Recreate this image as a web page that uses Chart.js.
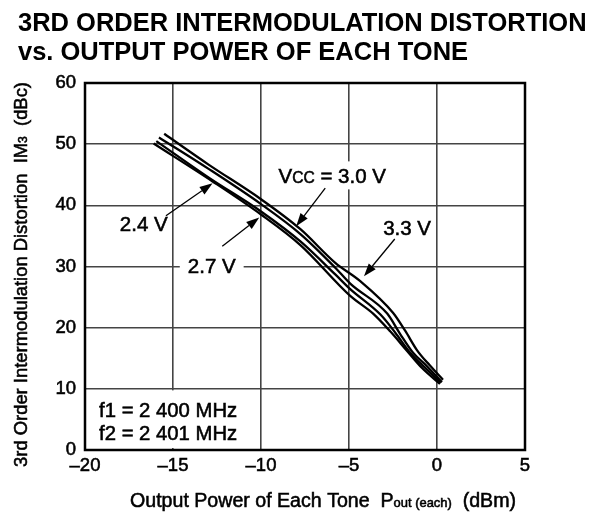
<!DOCTYPE html>
<html>
<head>
<meta charset="utf-8">
<script src="https://cdn.jsdelivr.net/npm/chart.js@4"></script>
<style>
  html, body { margin: 0; padding: 0; background: #fff; }
  #wrap { width: 602px; height: 524px; position: relative; }
</style>
</head>
<body>
<div id="wrap"><canvas id="im3-graph" width="602" height="524"></canvas></div>
<script>
// IM3 vs output power, one curve per supply voltage
const vcc33X = [-15.5, -13.0, -10.0, -7.76, -5.78, -4.36, -2.49, -1.81, -1.13, -0.40, 0.34];
const vcc33Y = [51.7, 46.7, 41.0, 36.1, 30.6, 27.6, 22.4, 19.5, 16.3, 13.8, 11.5];
const vcc30X = [-15.8, -13.0, -10.0, -7.76, -5.78, -4.93, -2.83, -2.10, -1.36, -0.57, 0.28];
const vcc30Y = [51.1, 46.0, 40.2, 35.3, 29.8, 27.2, 22.3, 19.0, 15.9, 13.7, 11.1];
const vcc27X = [-15.95, -12.9, -10.0, -7.76, -5.78, -4.93, -3.2, -2.35, -1.55, -0.70, 0.22];
const vcc27Y = [50.5, 44.4, 39.0, 34.1, 28.7, 26.3, 22.1, 19.1, 16.0, 13.5, 11.0];
const vcc24X = [-16.1, -12.75, -10.0, -7.76, -4.93, -3.63, -2.66, -1.70, -0.85, 0.17];
const vcc24Y = [50.1, 43.9, 38.5, 33.5, 25.2, 22.3, 19.4, 16.2, 13.4, 10.8];

const xTicks = [-20, -15, -10, -5, 0, 5];
const yTicks = [0, 10, 20, 30, 40, 50, 60];

// curve labels: text, centre and arrow (from -> tip), all in data units
const curveLabels = [
    { text: [["2.4 V", 1]], x: -16.66, y: 37.1, from: [-15.4, 38.3], tip: [-12.75, 43.6] },
    { text: [["2.7 V", 1]], x: -12.8, y: 30.1, from: [-12.2, 33.3], tip: [-10.1, 38.0], bg: true },
    { text: [["V", 1], ["CC", 0.76], [" = 3.0 V", 1]], x: -5.95, y: 44.9, from: [-6.35, 42.8], tip: [-8.0, 36.6], bg: true },
    { text: [["3.3 V", 1]], x: -1.7, y: 36.3, from: [-2.4, 34.5], tip: [-4.15, 28.4] },
];
const freqLines = ["f1 = 2 400 MHz", "f2 = 2 401 MHz"];

const FONT = "'Liberation Sans', Arial, sans-serif";
const HEAVY = 0.55; // extra stroke so the regular face reads a little heavier

function toPoints(xs, ys) {
    return xs.map((x, i) => ({ x: x, y: ys[i] }));
}

function curve(label, xs, ys) {
    return {
        label: label,
        data: toPoints(xs, ys),
        borderColor: "#000",
        borderWidth: 2.3,
        pointRadius: 0,
        fill: false,
        cubicInterpolationMode: "monotone",
    };
}

// draw a run of text pieces, smaller pieces sit on the same baseline
function runWidth(ctx, parts, size, weight) {
    let w = 0;
    parts.forEach(([t, s]) => {
        ctx.font = `${weight} ${size * s}px ${FONT}`;
        w += ctx.measureText(t).width;
    });
    return w;
}

function drawRun(ctx, parts, x, y, size, weight, align, stroke) {
    let w = runWidth(ctx, parts, size, weight);
    let cx = align === "center" ? x - w / 2 : x;
    ctx.textAlign = "left";
    ctx.textBaseline = "alphabetic";
    ctx.fillStyle = "#000";
    ctx.strokeStyle = "#000";
    ctx.lineWidth = stroke || 0;
    parts.forEach(([t, s]) => {
        ctx.font = `${weight} ${size * s}px ${FONT}`;
        ctx.fillText(t, cx, y);
        if (stroke) ctx.strokeText(t, cx, y);
        cx += ctx.measureText(t).width;
    });
    return w;
}

function arrow(ctx, x0, y0, x1, y1) {
    const a = Math.atan2(y1 - y0, x1 - x0);
    const len = 13, half = 4.5;
    const bx = x1 - len * Math.cos(a), by = y1 - len * Math.sin(a);
    ctx.strokeStyle = "#000";
    ctx.lineWidth = 1.3;
    ctx.beginPath();
    ctx.moveTo(x0, y0);
    ctx.lineTo(bx, by);
    ctx.stroke();
    ctx.fillStyle = "#000";
    ctx.beginPath();
    ctx.moveTo(x1, y1);
    ctx.lineTo(bx + half * Math.sin(a), by - half * Math.cos(a));
    ctx.lineTo(bx - half * Math.sin(a), by + half * Math.cos(a));
    ctx.closePath();
    ctx.fill();
}

const decorations = {
    id: "decorations",
    // white patches behind labels, then the frame
    beforeDatasetsDraw(chart) {
        const { ctx, chartArea: ca, scales: { x, y } } = chart;
        ctx.save();
        ctx.fillStyle = "#fff";
        ctx.fillRect(ca.left + 2, y.getPixelForValue(9.75), x.getPixelForValue(-10.35) - ca.left - 2, ca.bottom - y.getPixelForValue(9.75) - 2);
        curveLabels.filter(l => l.bg).forEach(l => {
            const w = runWidth(ctx, l.text, 20.5, "normal");
            const cx = x.getPixelForValue(l.x), cy = y.getPixelForValue(l.y);
            ctx.fillStyle = "#fff";
            ctx.fillRect(cx - w / 2 - 8, cy - 14, w + 16, 28);
        });
        ctx.strokeStyle = "#000";
        ctx.lineWidth = 2.5;
        ctx.strokeRect(ca.left, ca.top, ca.right - ca.left, ca.bottom - ca.top);
        ctx.restore();
    },
    afterDatasetsDraw(chart) {
        const { ctx, scales: { x, y } } = chart;
        ctx.save();
        curveLabels.forEach(l => {
            drawRun(ctx, l.text, x.getPixelForValue(l.x), y.getPixelForValue(l.y) + 7.5, 20.5, "normal", "center", HEAVY);
            arrow(ctx, x.getPixelForValue(l.from[0]), y.getPixelForValue(l.from[1]),
                x.getPixelForValue(l.tip[0]), y.getPixelForValue(l.tip[1]));
        });
        freqLines.forEach((t, i) => {
            drawRun(ctx, [[t, 1]], x.getPixelForValue(-19.2), y.getPixelForValue(6.5 - i * 3.7) + 7, 20.3, "normal", "left", HEAVY);
        });
        ctx.restore();
    },
    afterDraw(chart) {
        const { ctx, chartArea: ca } = chart;
        ctx.save();
        // heading
        drawRun(ctx, [["3RD ORDER INTERMODULATION DISTORTION", 1]], 18, 31, 25.5, "bold", "left");
        drawRun(ctx, [["vs. OUTPUT POWER OF EACH TONE", 1]], 18, 60, 25.5, "bold", "left");
        // x axis title
        drawRun(ctx, [["Output Power of Each Tone  P", 1], ["out (each)", 0.66], ["  (dBm)", 1]],
            323, 507, 19.6, "normal", "center", HEAVY);
        // y axis title, rotated
        ctx.translate(27, (ca.top + ca.bottom) / 2 + 8);
        ctx.rotate(-Math.PI / 2);
        drawRun(ctx, [["3rd Order Intermodulation Distortion  IM", 1], ["3", 0.66], ["  (dBc)", 1]],
            0, 0, 18.4, "normal", "center", HEAVY);
        ctx.restore();
    },
};

const tickFont = { family: FONT, size: 18.5 };

const chart = new Chart(document.getElementById("im3-graph").getContext("2d"), {
    type: "line",
    data: {
        datasets: [
            curve("3.3 V", vcc33X, vcc33Y),
            curve("3.0 V", vcc30X, vcc30Y),
            curve("2.7 V", vcc27X, vcc27Y),
            curve("2.4 V", vcc24X, vcc24Y),
        ],
    },
    options: {
        responsive: false,
        animation: false,
        events: [],
        layout: { padding: { top: 83, right: 77, left: 0, bottom: 0 } },
        plugins: { legend: { display: false }, tooltip: { enabled: false } },
        scales: {
            x: {
                type: "linear",
                min: xTicks[0],
                max: xTicks[xTicks.length - 1],
                afterBuildTicks: s => { s.ticks = xTicks.map(v => ({ value: v })); },
                afterFit: s => { s.height = 74; },
                grid: { color: "#444", lineWidth: 1.6, drawTicks: false },
                border: { display: false },
                ticks: {
                    color: "#000",
                    font: tickFont,
                    textStrokeColor: "#000",
                    textStrokeWidth: HEAVY,
                    padding: 5,
                    maxRotation: 0,
                    callback: v => (v < 0 ? "\u2013" + Math.abs(v) : String(v)),
                },
            },
            y: {
                type: "linear",
                min: yTicks[0],
                max: yTicks[yTicks.length - 1],
                afterBuildTicks: s => { s.ticks = yTicks.map(v => ({ value: v })); },
                afterFit: s => { s.width = 85; },
                grid: { color: "#444", lineWidth: 1.6, drawTicks: false },
                border: { display: false },
                ticks: { color: "#000", font: tickFont, textStrokeColor: "#000", textStrokeWidth: HEAVY, padding: 9 },
            },
        },
    },
    plugins: [decorations],
});
</script>
</body>
</html>
